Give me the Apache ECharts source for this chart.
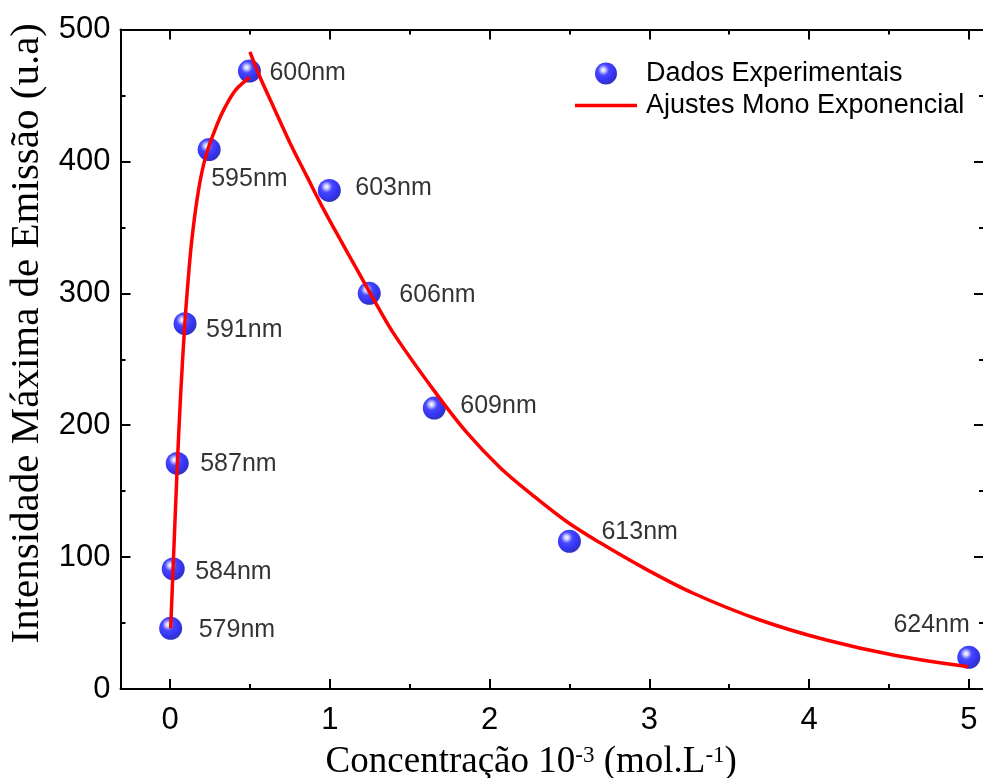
<!DOCTYPE html>
<html><head><meta charset="utf-8">
<script src="https://cdn.jsdelivr.net/npm/echarts@6/dist/echarts.min.js"></script>
<style>html,body{margin:0;padding:0;background:#fff}#c{width:983px;height:778px}</style>
</head><body><div id="c"></div>
<script>
// Experimental data
const concentration = [0.004, 0.02, 0.045, 0.094, 0.245, 0.497, 0.997, 1.247, 1.654, 2.5, 5.0];
const intensity = [46, 91, 171, 277, 409, 468.5, 378, 300, 213, 112, 24];
const wavelengthLabels = ['579nm', '584nm', '587nm', '591nm', '595nm', '600nm', '603nm', '606nm', '609nm', '613nm', '624nm'];

// Fitted curves
const riseFitX = [0.004, 0.019, 0.046, 0.066, 0.090, 0.108, 0.136, 0.178, 0.224, 0.298, 0.344, 0.41, 0.48, 0.497];
const riseFitY = [46, 91, 171, 222, 272, 302, 340, 378, 404, 429, 441, 454, 462, 464];
const decayFitX = [0.5, 0.563, 0.647, 0.751, 0.855, 0.96, 1.064, 1.168, 1.272, 1.397, 1.648, 1.857, 2.065, 2.274, 2.482, 2.69, 2.962, 3.275, 3.692, 4.109, 4.526, 4.996];
const decayFitY = [483, 464, 441.5, 414, 389, 364, 341, 318.5, 296, 270, 227, 194.5, 168, 146.5, 127, 111, 92, 72.6, 52.3, 37.1, 25.8, 16.9];

// Tick labels
const xMajorTicks = [0, 1, 2, 3, 4, 5];
const xMinorTicks = [0.5, 1.5, 2.5, 3.5, 4.5];

// Label placement (layout, not data)
const labelOffsets = [[28,2],[22,3],[23,1],[21,6],[2,30],[20,2],[26,-2],[30,2],[26,-2],[32,-9],[1,-32]];

const SANS = 'Liberation Sans, Arial, sans-serif';
const SERIF = 'Liberation Serif, Times New Roman, serif';
const X_MIN = -0.31, X_MAX = 5.095;

const sphere = {
  type: 'radial', x: 0.38, y: 0.34, r: 0.62,
  colorStops: [
    {offset: 0, color: '#ffffff'},
    {offset: 0.15, color: '#c0c0ff'},
    {offset: 0.4, color: '#1a1aff'},
    {offset: 0.8, color: '#0000f0'},
    {offset: 1, color: '#0000b8'}
  ]
};

const scatterData = concentration.map((x, i) => ({
  value: [x, intensity[i]],
  label: {
    show: true,
    formatter: wavelengthLabels[i],
    position: 'inside',
    align: i === concentration.length - 1 ? 'right' : 'left',
    verticalAlign: 'middle',
    offset: labelOffsets[i],
    color: '#000',
    textBorderWidth: 0,
    fontFamily: SANS,
    fontSize: 25
  }
}));

const tickStyle = {color: '#000', width: 2};
const axisLineStyle = {show: true, onZero: false, lineStyle: {color: '#000', width: 2}};
function xAxisBase(position, ticks, len, extra) {
  return Object.assign({
    type: 'value', position: position, min: X_MIN, max: X_MAX,
    axisLine: axisLineStyle,
    axisTick: {show: true, inside: true, length: len, customValues: ticks, lineStyle: tickStyle},
    axisLabel: {show: false},
    splitLine: {show: false}
  }, extra || {});
}

const chart = echarts.init(document.getElementById('c'), null, {renderer: 'canvas'});
chart.setOption({
  animation: false,
  backgroundColor: '#fff',
  grid: {left: 120.5, top: 29.5, right: -1, bottom: 89, containLabel: false, outerBoundsMode: 'none'},
  legend: {
    orient: 'vertical', left: 570, top: 55,
    itemWidth: 62, itemHeight: 22, itemGap: 5,
    textStyle: {fontFamily: SANS, fontSize: 27, color: '#000', padding: [0, 0, 0, 4]},
    data: [
      {name: 'Dados Experimentais', icon: 'circle'},
      {name: 'Ajustes Mono Exponencial', icon: 'path://M0,0 L62,0 L62,3.5 L0,3.5 Z', itemStyle: {color: '#ff0000'}}
    ]
  },
  xAxis: [
    xAxisBase('bottom', xMajorTicks, 10, {
      name: '{t|Concentração 10}{s|-3}{t| (mol.L}{s|-1}{t|)}',
      nameLocation: 'middle', nameGap: 55,
      nameTextStyle: {
        padding: [0, 42, 0, 0],
        rich: {
          t: {fontFamily: SERIF, fontSize: 37, color: '#000'},
          s: {fontFamily: SERIF, fontSize: 23, color: '#000', verticalAlign: 'top', padding: [0, 0, 14, 0]}
        }
      },
      axisLabel: {show: true, customValues: xMajorTicks, margin: 16, fontFamily: SANS, fontSize: 31, color: '#000'}
    }),
    xAxisBase('bottom', xMinorTicks, 5, {axisLine: {show: false, onZero: false}}),
    xAxisBase('top', xMajorTicks, 10),
    xAxisBase('top', xMinorTicks, 5, {axisLine: {show: false, onZero: false}})
  ],
  yAxis: [
    {
      type: 'value', position: 'left', min: 0, max: 500, interval: 100,
      name: 'Intensidade Máxima de Emissão (u.a)',
      nameLocation: 'middle', nameGap: 73,
      nameTextStyle: {fontFamily: SERIF, fontSize: 41, color: '#000', padding: [0, 0, 0, 52]},
      axisLine: axisLineStyle,
      axisTick: {show: true, inside: true, length: 10, lineStyle: tickStyle},
      minorTick: {show: true, splitNumber: 2, length: 5, lineStyle: tickStyle},
      axisLabel: {show: true, margin: 10, fontFamily: SANS, fontSize: 31, color: '#000'},
      splitLine: {show: false}, minorSplitLine: {show: false}
    },
    {
      type: 'value', position: 'right', min: 0, max: 500, interval: 100,
      axisLine: axisLineStyle,
      axisTick: {show: true, inside: true, length: 10, lineStyle: tickStyle},
      minorTick: {show: true, splitNumber: 2, length: 5, lineStyle: tickStyle},
      axisLabel: {show: false},
      splitLine: {show: false}, minorSplitLine: {show: false}
    }
  ],
  series: [
    {
      name: 'Dados Experimentais', type: 'scatter', xAxisIndex: 0, yAxisIndex: 0,
      symbol: 'circle', symbolSize: 23,
      itemStyle: {color: sphere},
      label: {color: '#000'},
      data: scatterData, z: 2
    },
    {
      name: 'Ajustes Mono Exponencial', type: 'line', xAxisIndex: 0, yAxisIndex: 0,
      showSymbol: false, symbol: 'none', smooth: 0.35,
      lineStyle: {color: '#ff0000', width: 3.5}, itemStyle: {color: '#ff0000'},
      data: riseFitX.map((x, i) => [x, riseFitY[i]]), z: 3
    },
    {
      name: 'Ajustes Mono Exponencial', type: 'line', xAxisIndex: 0, yAxisIndex: 0,
      showSymbol: false, symbol: 'none', smooth: 0.35,
      lineStyle: {color: '#ff0000', width: 3.5}, itemStyle: {color: '#ff0000'},
      data: decayFitX.map((x, i) => [x, decayFitY[i]]), z: 3
    }
  ]
});
</script>
</body></html>
